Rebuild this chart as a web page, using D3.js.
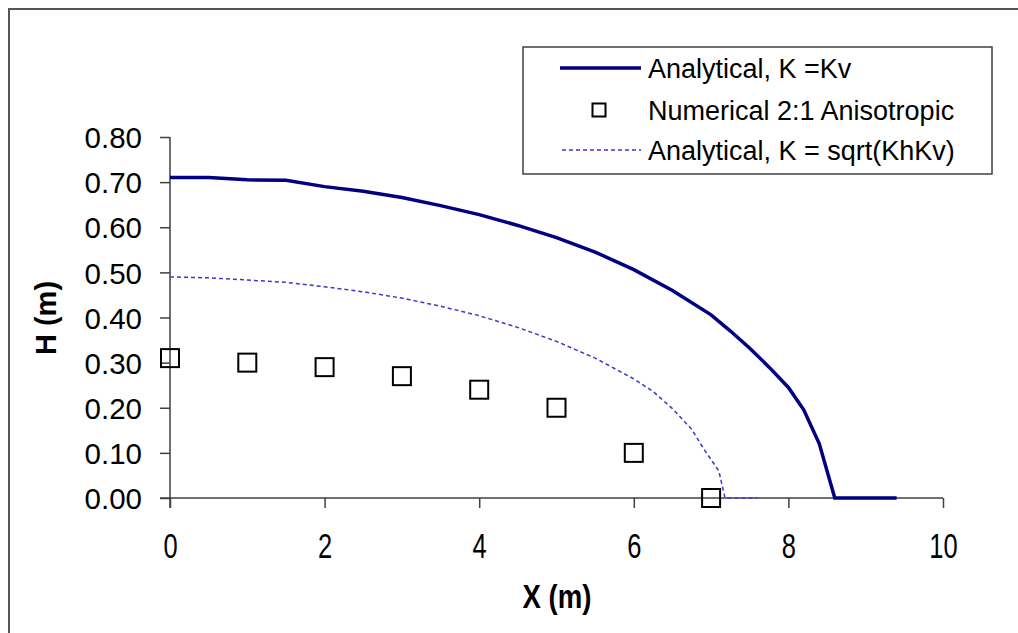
<!DOCTYPE html>
<html>
<head>
<meta charset="utf-8">
<script src="https://cdn.jsdelivr.net/npm/d3@7"></script>
<style>
  body { margin: 0; background: #fff; }
  svg { display: block; font-family: Arial, "Liberation Sans", sans-serif; }
</style>
</head>
<body>
<div id="chart"></div>
<script>
// data
const analyticalKv = [
  [0, 0.71], [0.5, 0.71], [1, 0.705], [1.5, 0.704], [2, 0.69], [2.5, 0.68],
  [3, 0.666], [3.5, 0.648], [4, 0.628], [4.5, 0.604], [5, 0.577], [5.5, 0.545],
  [6, 0.506], [6.5, 0.46], [7, 0.406], [7.25, 0.37], [7.5, 0.332], [7.75, 0.29],
  [8, 0.245], [8.2, 0.195], [8.4, 0.12], [8.6, 0.0], [9.4, 0.0]
]
const analyticalSqrt = [
  [0, 0.49], [0.5, 0.488], [1, 0.483], [1.5, 0.478], [2, 0.468], [2.5, 0.457],
  [3, 0.443], [3.5, 0.425], [4, 0.404], [4.5, 0.378], [5, 0.347], [5.5, 0.31],
  [6, 0.264], [6.25, 0.236], [6.5, 0.198], [6.75, 0.152], [6.9, 0.11], [7.0, 0.085],
  [7.1, 0.06], [7.18, 0.0], [7.6, 0.0]
]
const numericalX = [0, 1, 2, 3, 4, 5, 6, 7]
const numericalH = [0.31, 0.30, 0.29, 0.27, 0.24, 0.20, 0.10, 0.00]
const xTicks = [0, 2, 4, 6, 8, 10]
const yTicks = [0, 0.1, 0.2, 0.3, 0.4, 0.5, 0.6, 0.7, 0.8]
const legendLabels = ["Analytical, K =Kv", "Numerical 2:1 Anisotropic", "Analytical, K = sqrt(KhKv)"]

const width = 1018
const height = 633
const margin = { left: 170, right: 75, top: 137, bottom: 135 }

const x = d3.scaleLinear().domain([0, 10]).range([margin.left, width - margin.right])
const y = d3.scaleLinear().domain([0, 0.8]).range([height - margin.bottom, margin.top])

const svg = d3.select("#chart").append("svg")
  .attr("width", width)
  .attr("height", height)

// outer chart frame
svg.append("rect")
  .attr("x", 9).attr("y", 9)
  .attr("width", width + 20).attr("height", height + 20)
  .attr("fill", "none")
  .attr("stroke", "#555")
  .attr("stroke-width", 2)

const axisColor = "#404040"

const xAxis = svg.append("g")
  .attr("transform", "translate(0," + y(0) + ")")
  .call(d3.axisBottom(x).tickValues(xTicks).tickSize(10).tickSizeOuter(0).tickFormat(d3.format("d")))
xAxis.select(".domain").attr("d", "M" + (x(0) - 10) + ",0H" + x(10))

const yAxis = svg.append("g")
  .attr("transform", "translate(" + x(0) + ",0)")
  .call(d3.axisLeft(y).tickValues(yTicks).tickSize(10).tickSizeOuter(0).tickPadding(18).tickFormat(d3.format(".2f")))
yAxis.select(".domain").attr("d", "M0," + y(0.8) + "V" + (y(0) + 10))

svg.selectAll(".domain, .tick line").attr("stroke", axisColor).attr("stroke-width", 1.5)
// x labels in the picture are narrow and tall
xAxis.selectAll(".tick text")
  .attr("font-size", 30).attr("fill", "#000")
  .attr("y", 0).attr("dy", "0.36em")
  .attr("transform", "translate(0,47) scale(0.85,1.17)")
yAxis.selectAll(".tick text").attr("font-size", 29.5).attr("fill", "#000").attr("dy", "0.36em")

// axis titles
svg.append("text")
  .attr("transform", "translate(557,608) scale(0.92,1.1)")
  .attr("text-anchor", "middle")
  .attr("font-size", 30).attr("font-weight", "bold")
  .text("X (m)")
svg.append("text")
  .attr("transform", "translate(56,318) rotate(-90)")
  .attr("text-anchor", "middle")
  .attr("font-size", 29).attr("font-weight", "bold")
  .text("H (m)")

const line = d3.line().x(d => x(d[0])).y(d => y(d[1]))

svg.append("path")
  .datum(analyticalSqrt)
  .attr("d", line)
  .attr("fill", "none")
  .attr("stroke", "#3a3ac8")
  .attr("stroke-width", 1.5)
  .attr("stroke-dasharray", "4,3")

svg.append("path")
  .datum(analyticalKv)
  .attr("d", line)
  .attr("fill", "none")
  .attr("stroke", "#000080")
  .attr("stroke-width", 3.5)

const sq = 18
svg.selectAll(".num")
  .data(numericalX)
  .enter()
  .append("rect")
  .attr("class", "num")
  .attr("x", (d) => x(d) - sq / 2)
  .attr("y", (d, i) => y(numericalH[i]) - sq / 2)
  .attr("width", sq)
  .attr("height", sq)
  .attr("fill", "none")
  .attr("stroke", "#000")
  .attr("stroke-width", 2)

// legend
const lg = svg.append("g")
lg.append("rect")
  .attr("x", 523).attr("y", 47)
  .attr("width", 469).attr("height", 127)
  .attr("fill", "#fff")
  .attr("stroke", "#404040")
  .attr("stroke-width", 1.5)

const rowY = [68, 110, 150]
lg.append("line")
  .attr("x1", 560).attr("x2", 641).attr("y1", rowY[0]).attr("y2", rowY[0])
  .attr("stroke", "#000080").attr("stroke-width", 3.5)
lg.append("rect")
  .attr("x", 599 - 6.5).attr("y", rowY[1] - 6.5)
  .attr("width", 13).attr("height", 13)
  .attr("fill", "none").attr("stroke", "#000").attr("stroke-width", 2)
lg.append("line")
  .attr("x1", 562).attr("x2", 641).attr("y1", rowY[2]).attr("y2", rowY[2])
  .attr("stroke", "#3a3ac8").attr("stroke-width", 1.5).attr("stroke-dasharray", "4,3")

lg.selectAll(".lgtext")
  .data(legendLabels)
  .enter()
  .append("text")
  .attr("x", 648)
  .attr("y", (d, i) => rowY[i])
  .attr("dy", "0.36em")
  .attr("font-size", 27)
  .text(d => d)
</script>
</body>
</html>
